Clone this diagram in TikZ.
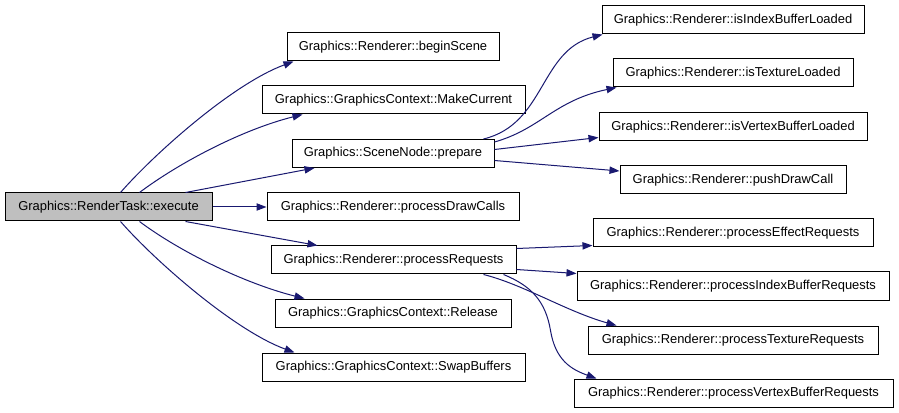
\documentclass[tikz,border=0pt]{standalone}
\usepackage{fontspec}
\setmainfont{Liberation Sans}
\usetikzlibrary{arrows.meta,calc}
\definecolor{edgec}{HTML}{191970}
\definecolor{rootbg}{HTML}{BFBFBF}
\definecolor{ink}{HTML}{000000}
\tikzset{
  fn/.style={draw=ink,fill=white,line width=0.75pt,minimum height=21pt,inner sep=0pt,
    font=\fontsize{9.7}{11}\selectfont,text=ink},
  root/.style={fn,fill=rootbg},
  wd/.style={minimum width=#1*0.75pt},
  call/.style={-{Triangle[length=7.5pt,width=5.5pt]},line width=0.75pt,color=edgec}
}
\begin{document}
\begin{tikzpicture}[x=0.75pt,y=-0.75pt]
  \useasboundingbox[fill=white] (0,0) rectangle (899,413);
  % caller
  \node[root,wd=207] (exec) at (108.5,207) {Graphics::RenderTask::execute};
  % direct callees
  \node[fn,wd=212] (begin) at (393,47) {Graphics::Renderer::beginScene};
  \node[fn,wd=263] (mkcur) at (393.5,100) {Graphics::GraphicsContext::MakeCurrent};
  \node[fn,wd=202] (prep) at (393,153.5) {Graphics::SceneNode::prepare};
  \node[fn,wd=252] (drawc) at (393,207) {Graphics::Renderer::processDrawCalls};
  \node[fn,wd=245] (preq) at (393.5,260) {Graphics::Renderer::processRequests};
  \node[fn,wd=236] (rel) at (393,313) {Graphics::GraphicsContext::Release};
  \node[fn,wd=263] (swap) at (393.5,367) {Graphics::GraphicsContext::SwapBuffers};
  % second level
  \node[fn,wd=262] (idxl) at (733,20) {Graphics::Renderer::isIndexBufferLoaded};
  \node[fn,wd=240] (texl) at (733,73) {Graphics::Renderer::isTextureLoaded};
  \node[fn,wd=268] (vtxl) at (733,127) {Graphics::Renderer::isVertexBufferLoaded};
  \node[fn,wd=226] (push) at (733,180) {Graphics::Renderer::pushDrawCall};
  \node[fn,wd=280] (peff) at (733,233) {Graphics::Renderer::processEffectRequests};
  \node[fn,wd=312] (pidx) at (733,286) {Graphics::Renderer::processIndexBufferRequests};
  \node[fn,wd=290] (ptex) at (733,340) {Graphics::Renderer::processTextureRequests};
  \node[fn,wd=319] (pvtx) at (733.5,393) {Graphics::Renderer::processVertexBufferRequests};
  % execute -> callees
  \draw[call] ($(exec.north)+(12,0)$) .. controls +(35,-40) and +(-60,22) .. ($(begin.south west)+(7,0)$);
  \draw[call] ($(exec.north)+(31,0)$) .. controls +(40,-30) and +(-60,15) .. ($(mkcur.south west)+(41,0)$);
  \draw[call] ($(exec.north)+(77,0)$) -- ($(prep.south west)+(23,0)$);
  \draw[call] (exec) -- (drawc);
  \draw[call] ($(exec.south)+(77,0)$) -- ($(preq.north west)+(47,0)$);
  \draw[call] ($(exec.south)+(31,0)$) .. controls +(40,30) and +(-60,-15) .. ($(rel.north west)+(30,0)$);
  \draw[call] ($(exec.south)+(12,0)$) .. controls +(35,40) and +(-60,-22) .. ($(swap.north west)+(33,0)$);
  % prepare -> renderer
  \draw[call] ($(prep.north east)+(-11,0)$) .. controls +(62,-15) and +(-63,16) .. ($(idxl.south west)+(1,0)$);
  \draw[call] ($(prep.north east)+(0,3)$) .. controls +(46,-13) and +(-62,13) .. ($(texl.south west)+(4,0)$);
  \draw[call] ($(prep.east)+(0,-4)$) -- ($(vtxl.south west)+(0,-4)$);
  \draw[call] ($(prep.east)+(0,7)$) -- ($(push.west)+(0,-9)$);
  % processRequests -> renderer
  \draw[call] ($(preq.north east)+(0,3)$) -- ($(peff.south west)+(0,-2)$);
  \draw[call] ($(preq.south east)+(0,-5)$) -- ($(pidx.north west)+(0,2)$);
  \draw[call] ($(preq.south east)+(-33,0)$) .. controls +(40,10) and +(-50,-14) .. ($(ptex.north west)+(29,0)$);
  \draw[call] ($(preq.south east)+(-13,0)$) .. controls +(27,11) and +(-5,-30) .. ++(47,56)
    .. controls +(5,30) and +(-25,-9) .. ($(pvtx.north west)+(23,0)$);
\end{tikzpicture}
\end{document}
